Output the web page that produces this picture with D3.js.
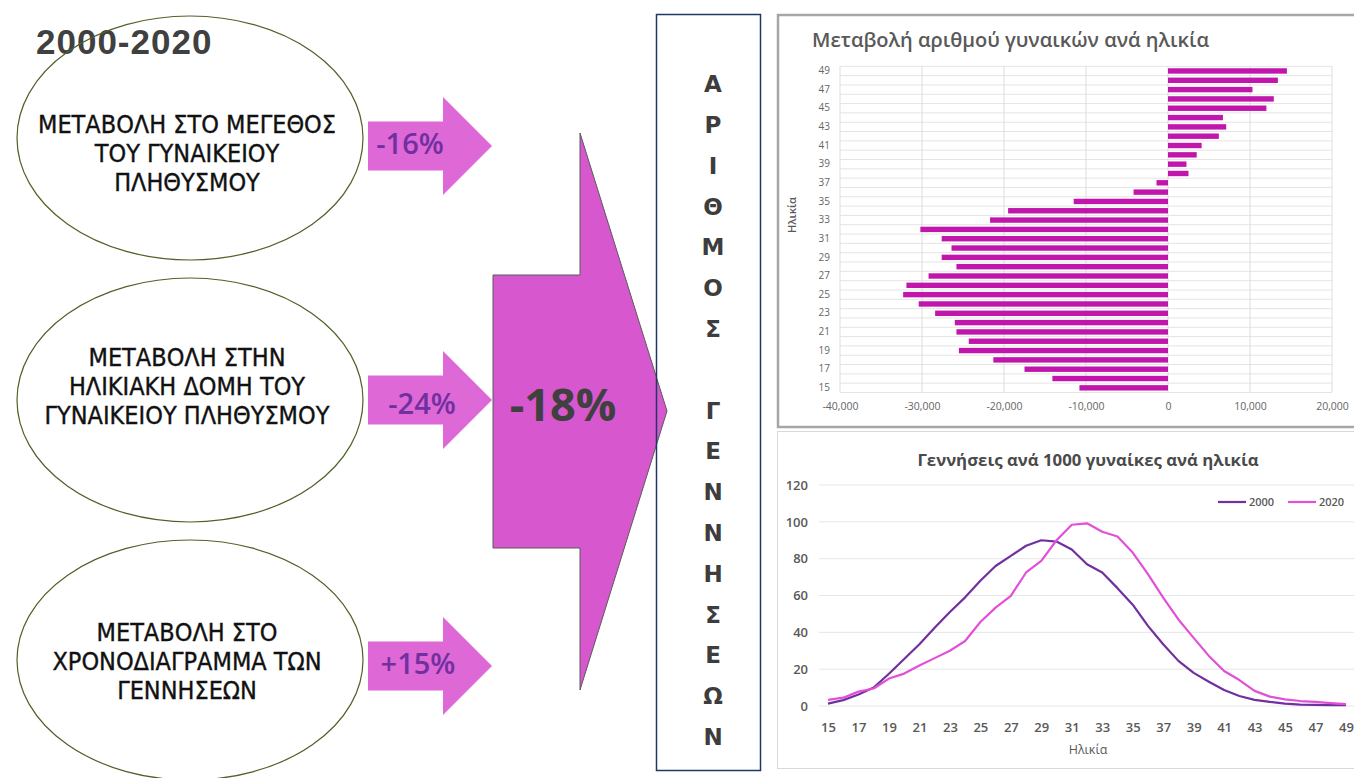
<!DOCTYPE html>
<html>
<head>
<meta charset="utf-8">
<script src="https://cdn.jsdelivr.net/npm/d3@7"></script>
<style>
  html, body { margin: 0; padding: 0; background: #fff; }
  svg { display: block; }
</style>
</head>
<body>
<svg id="chart" width="1354" height="778"></svg>
<script>
// ---- data ----
const ages = [15,16,17,18,19,20,21,22,23,24,25,26,27,28,29,30,31,32,33,34,35,36,37,38,39,40,41,42,43,44,45,46,47,48,49];
const ageTicks = [15,17,19,21,23,25,27,29,31,33,35,37,39,41,43,45,47,49];

// change in number of women by age, 2000 -> 2020
const womenChange = [-10800,-14100,-17500,-21300,-25500,-24300,-25800,-26000,-28400,-30400,
                     -32300,-31900,-29200,-25800,-27600,-26400,-27600,-30200,-21700,-19500,
                     -11500,-4200,-1400,2500,2250,3500,4100,6200,7100,6700,
                     12000,12900,10300,13400,14500];

// births per 1000 women by age
const births2000 = [1.3,3.2,6.2,10,17.5,25.5,33.5,42.5,51,59,
                    68,76,81.5,87,90,89.3,85,77,72.5,64,
                    55,43.5,33.5,24.5,18,13.2,8.7,5.4,3.3,2.2,
                    1.3,0.8,0.6,0.5,0.4];
const births2020 = [3.3,4.5,7.8,9.5,14.9,17.6,22,26,30,35.3,
                    45.6,53.4,59.8,72.5,78.8,90,98.4,99.2,94.6,92,
                    83.3,71.6,58.9,47,37,27.2,19,14.1,8.2,5.1,
                    3.6,2.7,2.2,1.6,1];

const changeTicks = [-40000,-30000,-20000,-10000,0,10000,20000];
const rateTicks = [0,20,40,60,80,100,120];
const seriesNames = ["2000","2020"];

const periodLabel = "2000-2020";
const factorLines = [
  ["ΜΕΤΑΒΟΛΗ ΣΤΟ ΜΕΓΕΘΟΣ","ΤΟΥ ΓΥΝΑΙΚΕΙΟΥ","ΠΛΗΘΥΣΜΟΥ"],
  ["ΜΕΤΑΒΟΛΗ ΣΤΗΝ","ΗΛΙΚΙΑΚΗ ΔΟΜΗ ΤΟΥ","ΓΥΝΑΙΚΕΙΟΥ ΠΛΗΘΥΣΜΟΥ"],
  ["ΜΕΤΑΒΟΛΗ ΣΤΟ","ΧΡΟΝΟΔΙΑΓΡΑΜΜΑ ΤΩΝ","ΓΕΝΝΗΣΕΩΝ"]
];
const factorChanges = ["-16%","-24%","+15%"];
const totalChange = "-18%";
const outcomeLabel = "ΑΡΙΘΜΟΣ ΓΕΝΝΗΣΕΩΝ";

// ---- drawing ----
const svg = d3.select("#chart");
svg.append("rect").attr("width",1354).attr("height",778).attr("fill","#fff");

const hyphen = s => s.replace(/\u2212/g, "-");
const GREY = "#595959";

// ===== left: decomposition diagram =====
const left = svg.append("g");

left.append("text")
  .attr("x", 36).attr("y", 54)
  .attr("font-family", "Liberation Sans, Arial, sans-serif")
  .attr("font-weight", "bold").attr("font-size", 35)
  .attr("letter-spacing", 1)
  .attr("fill", "#404040")
  .text(periodLabel);

const ovals = [
  {cy: 138, ry: 122, mid: 153, arrowY: 146, px: 410, py: 144},
  {cy: 400, ry: 122, mid: 386, arrowY: 400, px: 422, py: 404},
  {cy: 660, ry: 120, mid: 661, arrowY: 666, px: 418, py: 664}
];

function arrowPoints(x0, xNeck, xTip, cy, bodyH, headH) {
  return [[x0, cy - bodyH/2], [xNeck, cy - bodyH/2], [xNeck, cy - headH/2], [xTip, cy],
          [xNeck, cy + headH/2], [xNeck, cy + bodyH/2], [x0, cy + bodyH/2]];
}
const poly = d3.line();

ovals.forEach((o, i) => {
  left.append("ellipse")
    .attr("cx", 190).attr("cy", o.cy).attr("rx", 173).attr("ry", o.ry)
    .attr("fill", "none").attr("stroke", "#4F6228").attr("stroke-width", 1.2);

  left.append("g").selectAll("text").data(factorLines[i]).join("text")
    .attr("x", 187)
    .attr("y", (d, k) => o.mid + (k - 1) * 29)
    .attr("dy", "0.36em")
    .attr("text-anchor", "middle")
    .attr("font-family", "DejaVu Sans Condensed, DejaVu Sans, sans-serif")
    .attr("font-size", 25)
    .attr("fill", "#111")
    .attr("stroke", "#111").attr("stroke-width", 0.35)
    .text(d => d);

  left.append("path")
    .attr("d", poly(arrowPoints(368, 443, 492, o.arrowY, 49, 98)) + "Z")
    .attr("fill", "#DE68D6");

  left.append("text")
    .attr("x", o.px).attr("y", o.py).attr("dy", "0.36em")
    .attr("text-anchor", "middle")
    .attr("font-family", "Open Sans, sans-serif")
    .attr("font-weight", 600).attr("font-size", 29)
    .attr("fill", "#7030A0")
    .text(factorChanges[i]);
});

// big combined arrow
left.append("path")
  .attr("d", poly([[493,275],[580,275],[580,133],[667,411],[580,690],[580,548],[493,548]]) + "Z")
  .attr("fill", "#D657CE").attr("stroke", "#5a5a5a").attr("stroke-width", 1);

left.append("text")
  .attr("x", 563).attr("y", 405).attr("dy", "0.36em")
  .attr("text-anchor", "middle")
  .attr("font-family", "Open Sans, sans-serif")
  .attr("font-weight", "bold").attr("font-size", 45)
  .attr("fill", "#404040")
  .text(totalChange);

// vertical outcome box
left.append("rect")
  .attr("x", 656.5).attr("y", 14.5).attr("width", 104).attr("height", 756)
  .attr("fill", "none").attr("stroke", "#203864").attr("stroke-width", 1.5);

left.append("g").selectAll("text").data(Array.from(outcomeLabel)).join("text")
  .attr("x", 713)
  .attr("y", (d, i) => 84 + i * 40.8)
  .attr("dy", "0.36em")
  .attr("text-anchor", "middle")
  .attr("font-family", "DejaVu Sans, sans-serif")
  .attr("font-weight", "bold").attr("font-size", 23)
  .attr("fill", "#3d3d3d")
  .text(d => d);

// ===== top right: horizontal bar chart =====
const bar = svg.append("g");
bar.append("rect")
  .attr("x", 778).attr("y", 15).attr("width", 600).attr("height", 412)
  .attr("fill", "#fff").attr("stroke", "#A6A6A6").attr("stroke-width", 2.5);

bar.append("text")
  .attr("x", 812).attr("y", 47)
  .attr("font-family", "Open Sans, sans-serif")
  .attr("font-weight", 600).attr("font-size", 20)
  .attr("fill", GREY)
  .text("Μεταβολή αριθμού γυναικών ανά ηλικία");

const xBar = d3.scaleLinear().domain([-40000, 20000]).range([840, 1332]);
const yBar = d3.scaleBand().domain(ages.slice().reverse()).range([66.3, 392.5])
  .paddingInner(0.42).paddingOuter(0.21);
const step = yBar.step();

// category boundary gridlines
bar.append("g").selectAll("line").data(d3.range(ages.length + 1)).join("line")
  .attr("x1", xBar(-40000)).attr("x2", xBar(20000))
  .attr("y1", i => 66.3 + i * step).attr("y2", i => 66.3 + i * step)
  .attr("stroke", "#E4E4E4").attr("stroke-width", 1);
// value gridlines
bar.append("g").selectAll("line").data(changeTicks).join("line")
  .attr("x1", d => xBar(d)).attr("x2", d => xBar(d))
  .attr("y1", 66.3).attr("y2", 392.5)
  .attr("stroke", "#DDDDDD").attr("stroke-width", 1);

bar.append("g").selectAll("rect").data(ages).join("rect")
  .attr("x", (d, i) => xBar(Math.min(0, womenChange[i])))
  .attr("width", (d, i) => Math.abs(xBar(womenChange[i]) - xBar(0)))
  .attr("y", d => yBar(d))
  .attr("height", yBar.bandwidth())
  .attr("fill", "#C016AB");

const xBarAxis = bar.append("g").attr("transform", "translate(0,393)")
  .call(d3.axisBottom(xBar).tickValues(changeTicks).tickSize(0).tickPadding(10)
        .tickFormat(d => hyphen(d3.format(",")(d))));
const yBarAxis = bar.append("g").attr("transform", "translate(840,0)")
  .call(d3.axisLeft(yBar).tickValues(ageTicks).tickSize(0).tickPadding(10));
[xBarAxis, yBarAxis].forEach(a => {
  a.select(".domain").remove();
  a.selectAll("text").attr("font-family", "Open Sans, sans-serif").attr("font-size", 10.5).attr("fill", "#666");
});
yBarAxis.selectAll("text").attr("font-size", 10);

bar.append("text")
  .attr("transform", "translate(796,215) rotate(-90)")
  .attr("text-anchor", "middle")
  .attr("font-family", "Open Sans, sans-serif")
  .attr("font-size", 11).attr("font-weight", 600)
  .attr("fill", GREY)
  .text("Ηλικία");

// ===== bottom right: births per 1000 women =====
const ln = svg.append("g");
ln.append("rect")
  .attr("x", 777.5).attr("y", 431.5).attr("width", 600).attr("height", 337)
  .attr("fill", "#fff").attr("stroke", "#D9D9D9").attr("stroke-width", 1);

ln.append("text")
  .attr("x", 1088).attr("y", 466)
  .attr("text-anchor", "middle")
  .attr("font-family", "Open Sans, sans-serif")
  .attr("font-weight", "bold").attr("font-size", 16.8)
  .attr("fill", "#4a4a4a")
  .text("Γεννήσεις ανά 1000 γυναίκες ανά ηλικία");

const xL = d3.scaleLinear().domain([15, 49]).range([828, 1346]);
const yL = d3.scaleLinear().domain([0, 120]).range([706, 485]);

ln.append("g").selectAll("line").data(rateTicks).join("line")
  .attr("x1", 819).attr("x2", 1354)
  .attr("y1", d => yL(d)).attr("y2", d => yL(d))
  .attr("stroke", "#E6E6E6").attr("stroke-width", 1);

const yLAxis = ln.append("g").attr("transform", "translate(819,0)")
  .call(d3.axisLeft(yL).tickValues(rateTicks).tickSize(0).tickPadding(11));
const xLAxis = ln.append("g").attr("transform", "translate(0,706)")
  .call(d3.axisBottom(xL).tickValues(ageTicks).tickSize(0).tickPadding(17).tickFormat(d3.format("d")));
[yLAxis, xLAxis].forEach(a => {
  a.select(".domain").remove();
  a.selectAll("text").attr("font-family", "Open Sans, sans-serif").attr("font-size", 13)
    .attr("font-weight", 600).attr("fill", GREY);
});

const series = [
  {name: seriesNames[0], values: births2000, color: "#7030A0"},
  {name: seriesNames[1], values: births2020, color: "#E350D8"}
];
const line = d3.line().x((d, i) => xL(ages[i])).y(d => yL(d));
ln.append("g").selectAll("path").data(series).join("path")
  .attr("d", d => line(d.values))
  .attr("fill", "none")
  .attr("stroke", d => d.color)
  .attr("stroke-width", 2.2)
  .attr("stroke-linejoin", "round");

ln.append("text")
  .attr("x", 1088).attr("y", 754)
  .attr("text-anchor", "middle")
  .attr("font-family", "Open Sans, sans-serif")
  .attr("font-size", 12.5)
  .attr("fill", GREY)
  .text("Ηλικία");

const legend = ln.append("g").selectAll("g").data(series).join("g")
  .attr("transform", (d, i) => `translate(${1218 + i * 70},502)`);
legend.append("line").attr("x1", 0).attr("x2", 28)
  .attr("stroke", d => d.color).attr("stroke-width", 2.2);
legend.append("text").attr("x", 31).attr("dy", "0.35em")
  .attr("font-family", "Open Sans, sans-serif").attr("font-size", 11)
  .attr("font-weight", 600)
  .attr("fill", GREY)
  .text(d => d.name);
</script>
</body>
</html>
